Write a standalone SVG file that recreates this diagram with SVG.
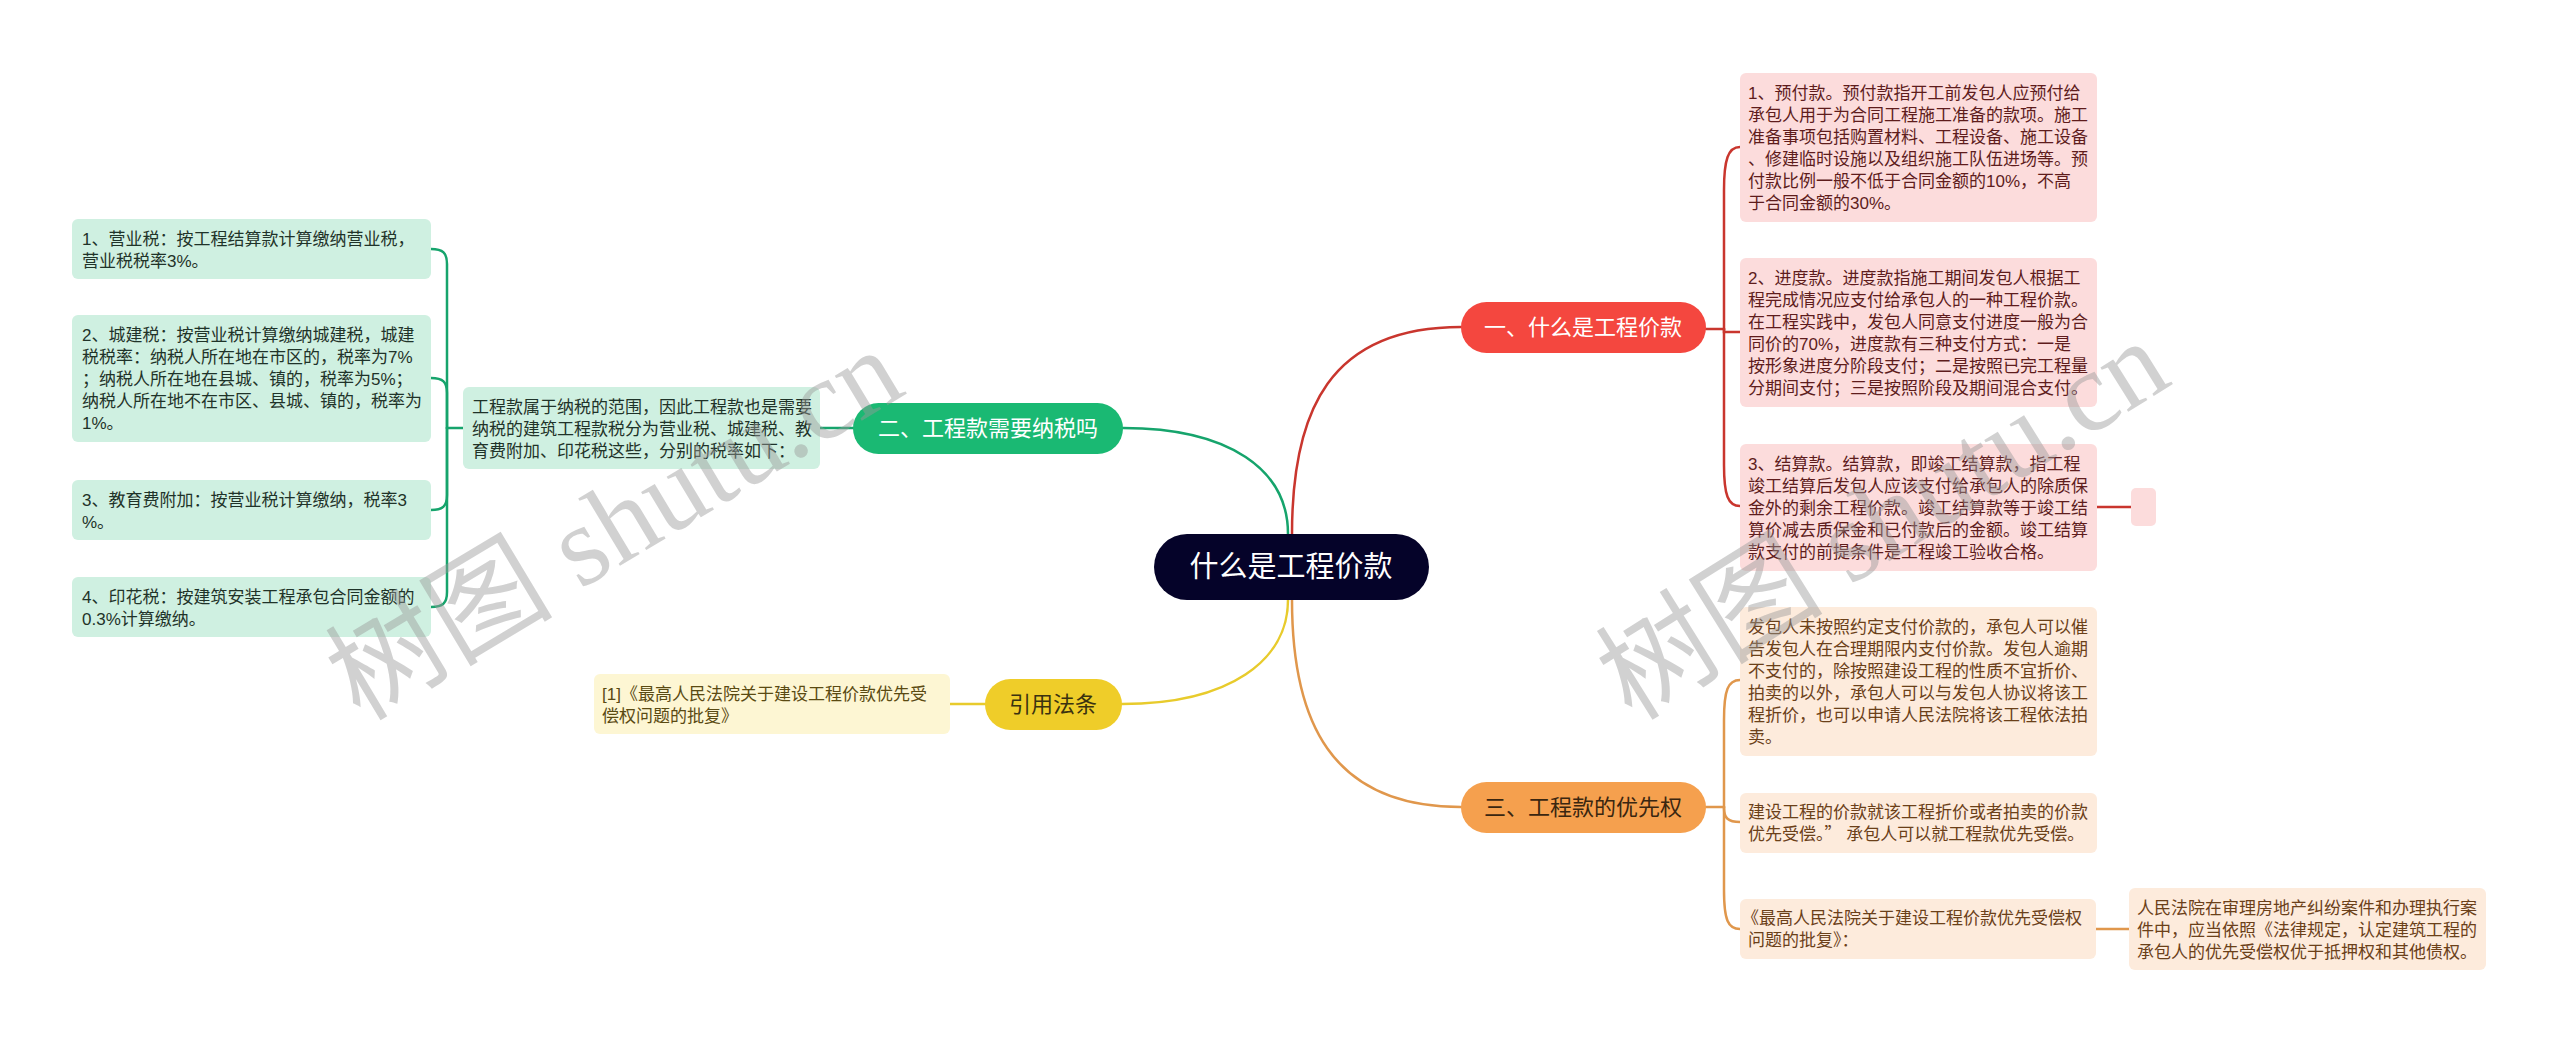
<svg xmlns="http://www.w3.org/2000/svg" width="2560" height="1045" viewBox="0 0 2560 1045">
<style>
text{font-family:"Liberation Sans","Noto Sans CJK SC",sans-serif;}
.t{font-size:17px;}
.cjk{font-family:"Noto Sans CJK SC",sans-serif;}
.main{font-size:22px;text-anchor:middle;}
.rb{fill:#fcdcdc;}
.rt{fill:#5e1c1c;}
.gb{fill:#cff0e1;}
.gt{fill:#1f3329;}
.ob{fill:#fdebdc;}
.ot{fill:#6b4019;}
.yb{fill:#fdf6d3;}
.yt{fill:#5a4a12;}
.wm{font-family:"Liberation Serif","Noto Sans CJK SC",serif;font-size:114px;fill:#9a9a9a;fill-opacity:0.45;}
.c{fill:none;stroke-width:2.5;stroke-linecap:round;}
.cr{stroke:#c9362e;}
.cg{stroke:#16a46c;}
.cy{stroke:#e8cb2c;}
.co{stroke:#e0974c;}
</style>
<rect width="2560" height="1045" fill="#ffffff"/>

<g id="connectors">
  <path class="c cr" d="M1292,534 C1292,410 1330,327 1461,327"/>
  <path class="c cg" d="M1288,534 C1288,470 1230,428 1123,428"/>
  <path class="c cy" d="M1288,600 C1288,660 1230,704 1122,704"/>
  <path class="c co" d="M1292,600 C1292,720 1330,807 1461,807"/>
  <path class="c cr" d="M1706,329 L1724,329"/>
  <path class="c cr" d="M1724,329 L1724,190 C1724,160 1728,147 1740,147"/>
  <path class="c cr" d="M1724,329 L1724,332 L1740,332"/>
  <path class="c cr" d="M1724,329 L1724,465 C1724,495 1728,506 1740,506"/>
  <path class="c cr" d="M2097,507 L2131,507"/>
  <path class="c co" d="M1706,807 L1724,807"/>
  <path class="c co" d="M1724,807 L1724,720 C1724,690 1728,680 1740,680"/>
  <path class="c co" d="M1724,807 L1724,808 C1724,818 1728,822 1740,822"/>
  <path class="c co" d="M1724,807 L1724,890 C1724,920 1728,929 1740,929"/>
  <path class="c co" d="M2096,929 L2129,929"/>
  <path class="c cg" d="M853,428 L820,428"/>
  <path class="c cg" d="M463,428 L447,428"/>
  <path class="c cg" d="M447,428 L447,264 C447,253 443,249 431,249"/>
  <path class="c cg" d="M447,428 L447,393 C447,382 443,378 431,378"/>
  <path class="c cg" d="M447,428 L447,495 C447,506 443,510 431,510"/>
  <path class="c cg" d="M447,428 L447,592 C447,603 443,607 431,607"/>
  <path class="c cy" d="M985,704 L950,704"/>
</g>

<g id="root">
  <rect x="1154" y="534" width="275" height="66" rx="33" fill="#050329"/>
  <text x="1291" y="577" font-size="29" text-anchor="middle" fill="#ffffff">什么是工程价款</text>
</g>

<g id="n1">
  <rect x="1461" y="302" width="245" height="51" rx="25.5" fill="#f4473f"/>
  <text class="main" x="1583" y="335" fill="#ffffff">一、什么是工程价款</text>
</g>
<g id="n2">
  <rect x="853" y="403" width="270" height="51" rx="25.5" fill="#1ab973"/>
  <text class="main" x="988" y="436" fill="#ffffff">二、工程款需要纳税吗</text>
</g>
<g id="n3">
  <rect x="1461" y="782" width="245" height="51" rx="25.5" fill="#f5a04e"/>
  <text class="main" x="1583" y="815" fill="#3a2610">三、工程款的优先权</text>
</g>
<g id="n4">
  <rect x="985" y="679" width="137" height="51" rx="25.5" fill="#efcd29"/>
  <text class="main" x="1053" y="712" fill="#3a3210">引用法条</text>
</g>

<g id="r1">
  <rect class="rb" x="1740" y="73" width="357" height="149" rx="6"/>
  <text class="t rt"><tspan x="1748" y="99">1、预付款。预付款指开工前发包人应预付给</tspan><tspan x="1748" y="121">承包人用于为合同工程施工准备的款项。施工</tspan><tspan x="1748" y="143">准备事项包括购置材料、工程设备、施工设备</tspan><tspan x="1748" y="165">、修建临时设施以及组织施工队伍进场等。预</tspan><tspan x="1748" y="187">付款比例一般不低于合同金额的10%，不高</tspan><tspan x="1748" y="209">于合同金额的30%。</tspan></text>
</g>
<g id="r2">
  <rect class="rb" x="1740" y="258" width="357" height="149" rx="6"/>
  <text class="t rt"><tspan x="1748" y="284">2、进度款。进度款指施工期间发包人根据工</tspan><tspan x="1748" y="306">程完成情况应支付给承包人的一种工程价款。</tspan><tspan x="1748" y="328">在工程实践中，发包人同意支付进度一般为合</tspan><tspan x="1748" y="350">同价的70%，进度款有三种支付方式：一是</tspan><tspan x="1748" y="372">按形象进度分阶段支付；二是按照已完工程量</tspan><tspan x="1748" y="394">分期间支付；三是按照阶段及期间混合支付。</tspan></text>
</g>
<g id="r3">
  <rect class="rb" x="1740" y="444" width="357" height="127" rx="6"/>
  <text class="t rt"><tspan x="1748" y="470">3、结算款。结算款，即竣工结算款，指工程</tspan><tspan x="1748" y="492">竣工结算后发包人应该支付给承包人的除质保</tspan><tspan x="1748" y="514">金外的剩余工程价款。竣工结算款等于竣工结</tspan><tspan x="1748" y="536">算价减去质保金和已付款后的金额。竣工结算</tspan><tspan x="1748" y="558">款支付的前提条件是工程竣工验收合格。</tspan></text>
</g>
<g id="r3a">
  <rect class="rb" x="2131" y="488" width="25" height="38" rx="5"/>
</g>

<g id="o1">
  <rect class="ob" x="1740" y="607" width="357" height="149" rx="6"/>
  <text class="t ot"><tspan x="1748" y="633">发包人未按照约定支付价款的，承包人可以催</tspan><tspan x="1748" y="655">告发包人在合理期限内支付价款。发包人逾期</tspan><tspan x="1748" y="677">不支付的，除按照建设工程的性质不宜折价、</tspan><tspan x="1748" y="699">拍卖的以外，承包人可以与发包人协议将该工</tspan><tspan x="1748" y="721">程折价，也可以申请人民法院将该工程依法拍</tspan><tspan x="1748" y="743">卖。</tspan></text>
</g>
<g id="o2">
  <rect class="ob" x="1740" y="793" width="357" height="60" rx="6"/>
  <text class="t ot"><tspan x="1748" y="818">建设工程的价款就该工程折价或者拍卖的价款</tspan><tspan x="1748" y="840">优先受偿。<tspan class="cjk">”</tspan> 承包人可以就工程款优先受偿。</tspan></text>
</g>
<g id="o3">
  <rect class="ob" x="1740" y="899" width="356" height="60" rx="6"/>
  <text class="t ot"><tspan x="1742" y="924">《最高人民法院关于建设工程价款优先受偿权</tspan><tspan x="1748" y="946">问题的批复》：</tspan></text>
</g>
<g id="o4">
  <rect class="ob" x="2129" y="888" width="357" height="82" rx="6"/>
  <text class="t ot"><tspan x="2137" y="914">人民法院在审理房地产纠纷案件和办理执行案</tspan><tspan x="2137" y="936">件中，应当依照《法律规定，认定建筑工程的</tspan><tspan x="2137" y="958">承包人的优先受偿权优于抵押权和其他债权。</tspan></text>
</g>

<g id="g0">
  <rect class="gb" x="463" y="387" width="357" height="82" rx="6"/>
  <text class="t gt"><tspan x="472" y="413">工程款属于纳税的范围，因此工程款也是需要</tspan><tspan x="472" y="435">纳税的建筑工程款税分为营业税、城建税、教</tspan><tspan x="472" y="457">育费附加、印花税这些，分别的税率如下：</tspan></text>
</g>
<g id="g1">
  <rect class="gb" x="72" y="219" width="359" height="60" rx="6"/>
  <text class="t gt"><tspan x="82" y="245">1、营业税：按工程结算款计算缴纳营业税，</tspan><tspan x="82" y="267">营业税税率3%。</tspan></text>
</g>
<g id="g2">
  <rect class="gb" x="72" y="315" width="359" height="127" rx="6"/>
  <text class="t gt"><tspan x="82" y="341">2、城建税：按营业税计算缴纳城建税，城建</tspan><tspan x="82" y="363">税税率：纳税人所在地在市区的，税率为7%</tspan><tspan x="82" y="385">；纳税人所在地在县城、镇的，税率为5%；</tspan><tspan x="82" y="407">纳税人所在地不在市区、县城、镇的，税率为</tspan><tspan x="82" y="429">1%。</tspan></text>
</g>
<g id="g3">
  <rect class="gb" x="72" y="480" width="359" height="60" rx="6"/>
  <text class="t gt"><tspan x="82" y="506">3、教育费附加：按营业税计算缴纳，税率3</tspan><tspan x="82" y="528">%。</tspan></text>
</g>
<g id="g4">
  <rect class="gb" x="72" y="577" width="359" height="60" rx="6"/>
  <text class="t gt"><tspan x="82" y="603">4、印花税：按建筑安装工程承包合同金额的</tspan><tspan x="82" y="625">0.3%计算缴纳。</tspan></text>
</g>

<g id="y1">
  <rect class="yb" x="594" y="674" width="356" height="60" rx="6"/>
  <text class="t yt"><tspan x="602" y="700">[1]《最高人民法院关于建设工程价款优先受</tspan><tspan x="602" y="722">偿权问题的批复》</tspan></text>
</g>

<g id="watermark">
  <text class="wm" transform="translate(360,722) rotate(-31)">树图 shutu.cn</text>
  <text class="wm" transform="translate(1632,722) rotate(-32)">树图 shutu.cn</text>
</g>
</svg>
